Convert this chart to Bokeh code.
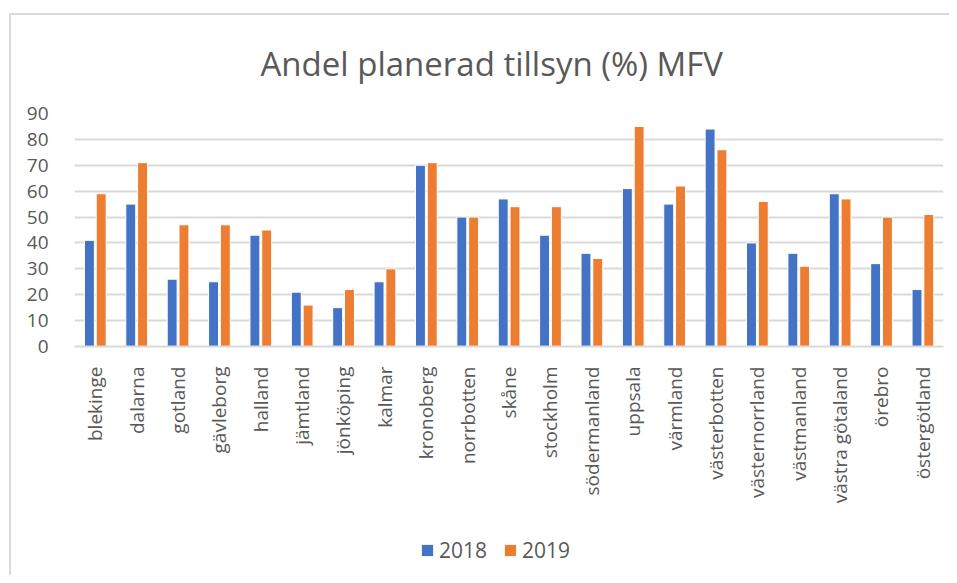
import math
from bokeh.plotting import figure
from bokeh.layouts import column
from bokeh.models import ColumnDataSource, Range1d, FactorRange, Legend, LegendItem, SingleIntervalTicker
from bokeh.transform import dodge
from bokeh.embed import file_html
from bokeh.resources import INLINE

regions = ["blekinge", "dalarna", "gotland", "gävleborg", "halland", "jämtland", "jönköping",
           "kalmar", "kronoberg", "norrbotten", "skåne", "stockholm", "södermanland", "uppsala",
           "värmland", "västerbotten", "västernorrland", "västmanland", "västra götaland",
           "örebro", "östergötland"]
v2018 = [41, 55, 26, 25, 43, 21, 15, 25, 70, 50, 57, 43, 36, 61, 55, 84, 40, 36, 59, 32, 22]
v2019 = [59, 71, 47, 47, 45, 16, 22, 30, 71, 50, 54, 54, 34, 85, 62, 76, 56, 31, 57, 50, 51]
years = ["2018", "2019"]
colors = ["#4472C4", "#ED7D31"]
title_text = "Andel planerad tillsyn (%) MFV"

src = ColumnDataSource(dict(region=regions, y2018=v2018, y2019=v2019))

TXT = "#595959"
FONT = "Open Sans"

p = figure(x_range=FactorRange(*regions), y_range=Range1d(0, 90),
           width=949, height=520, output_backend="svg", toolbar_location=None,
           min_border_left=74, min_border_right=6, min_border_top=113, min_border_bottom=174)
p.title.text = title_text
p.title.align = "left"
p.title.offset = 186
p.title.text_font = FONT
p.title.text_font_size = "33px"
p.title.text_font_style = "normal"
p.title.text_color = TXT
p.title.standoff = 55
p.border_fill_alpha = 0
p.background_fill_alpha = 0

p.vbar(x=dodge("region", -0.14, range=p.x_range), top="y2018", width=0.24, source=src,
       fill_color=colors[0], line_color="white", line_width=1)
p.vbar(x=dodge("region", 0.145, range=p.x_range), top="y2019", width=0.24, source=src,
       fill_color=colors[1], line_color="white", line_width=1)

p.outline_line_color = None
p.xgrid.grid_line_color = None
p.ygrid.grid_line_color = "#d9d9d9"
p.ygrid.grid_line_width = 2
p.yaxis.ticker = SingleIntervalTicker(interval=10)
p.yaxis.axis_line_color = None
p.yaxis.major_tick_line_color = None
p.yaxis.minor_tick_line_color = None
p.yaxis.major_label_text_font = FONT
p.yaxis.major_label_text_font_size = "19px"
p.yaxis.major_label_text_color = TXT
p.yaxis.major_label_standoff = 20

p.xaxis.axis_line_color = "#d9d9d9"
p.xaxis.axis_line_width = 2
p.xaxis.major_tick_line_color = None
p.xaxis.minor_tick_line_color = None
p.xaxis.major_label_orientation = math.pi / 2
p.xaxis.major_label_text_font = FONT
p.xaxis.major_label_text_font_size = "19px"
p.xaxis.major_label_text_color = TXT
p.xaxis.major_label_standoff = 14

# legend strip below the chart (zero-height bars far outside its range; only the legend shows)
lf = figure(width=949, height=55, output_backend="svg", toolbar_location=None,
            x_range=FactorRange(*regions), y_range=Range1d(100000, 100010),
            x_axis_type=None, y_axis_type=None, min_border=0)
lf.outline_line_color = None
lf.grid.visible = False
lf.border_fill_alpha = 0
lf.background_fill_alpha = 0
lr1 = lf.vbar(x="region", top="y2018", bottom="y2018", width=0.24, source=src,
              fill_color=colors[0], line_color=None)
lr2 = lf.vbar(x="region", top="y2019", bottom="y2019", width=0.24, source=src,
              fill_color=colors[1], line_color=None)
legend = Legend(items=[LegendItem(label=years[0], renderers=[lr1]),
                       LegendItem(label=years[1], renderers=[lr2])],
                orientation="horizontal", location=(346, 11),
                label_text_font=FONT, label_text_font_size="21px", label_text_color=TXT,
                glyph_width=14, glyph_height=14, spacing=16, border_line_color=None,
                background_fill_alpha=0, margin=0, padding=4)
lf.add_layout(legend, "center")

layout = column(p, lf, spacing=0, styles={
    "background": "linear-gradient(#d9d9d9, #d9d9d9) 9px 13px / 2px 100% no-repeat, "
                  "linear-gradient(#d9d9d9, #d9d9d9) 9px 13px / 100% 2px no-repeat, white"})
open("out.html", "w").write(file_html(layout, INLINE))
